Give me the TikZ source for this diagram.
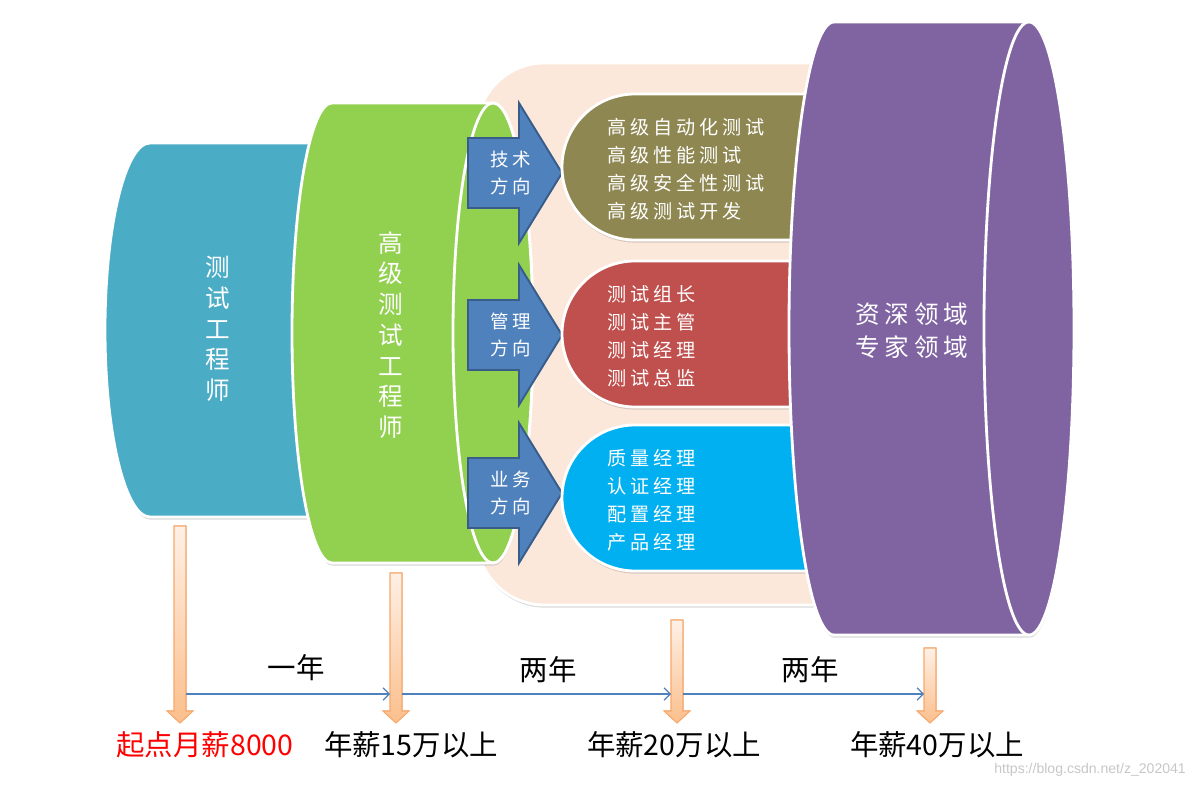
\documentclass[tikz,border=0pt]{standalone}
\usepackage{fontspec}
\usetikzlibrary{arrows.meta}
\usetikzlibrary{shadows}

\newfontfamily\cjk{Noto Sans CJK SC}
\newfontfamily\cjkwide{Noto Sans CJK SC}[LetterSpace=20]
\newfontfamily\urlfont{Liberation Sans}

\definecolor{tealc}{HTML}{4BACC6}
\definecolor{greenc}{HTML}{92D050}
\definecolor{peach}{HTML}{FCE8DA}
\definecolor{arrowblue}{HTML}{4F81BD}
\definecolor{arrowedge}{HTML}{385D8A}
\definecolor{olive}{HTML}{8F8752}
\definecolor{redc}{HTML}{C0504D}
\definecolor{cyanc}{HTML}{00B0F0}
\definecolor{purplec}{HTML}{8064A2}
\definecolor{orangeedge}{HTML}{F9A86A}
\definecolor{orangetop}{HTML}{FEF0E6}
\definecolor{orangebot}{HTML}{FBBF8C}

\begin{document}
\begin{tikzpicture}[x=0.02cm, y=0.02cm,
    body/.style={draw=white, line width=1.6pt},
    shadowed/.style={drop shadow={shadow xshift=0.3pt, shadow yshift=-1.5pt, opacity=0.3}},
    vtext/.style={text=white, font=\cjk\fontsize{14}{17.5}\selectfont, align=center},
    intext/.style={text=white, font=\cjkwide\fontsize{10.9}{15.9}\selectfont, align=left, anchor=west},
    dirarrow/.style={fill=arrowblue, draw=arrowedge, line width=1.1pt},
    salarrow/.style={draw=orangeedge, line width=0.6pt, top color=orangetop, bottom color=orangebot},
    timeline/.style={draw=arrowblue, line width=0.7pt, -{Straight Barb[length=3.5pt,width=7pt]}},
    salary/.style={font=\cjk\fontsize{16.2}{19}\selectfont}]
    \useasboundingbox (0,0) rectangle (1197,788);

    % test engineer
    \filldraw[body, shadowed, fill=tealc] (150,645) -- (360,645) -- (360,271) -- (150,271)
        arc[start angle=270, end angle=90, x radius=45, y radius=187] -- cycle;
    \node[vtext] (junior) at (218,459) {测\\试\\工\\程\\师};

    % background of the three directions
    \filldraw[body, shadowed, fill=peach, rounded corners=1.35cm] (900,725) -- (477,725) -- (477,183) -- (900,183) -- cycle;

    % senior test engineer
    \filldraw[body, shadowed, fill=greenc] (332,685) -- (493,685)
        arc[start angle=90, end angle=-90, x radius=40, y radius=230] -- (332,225)
        arc[start angle=270, end angle=90, x radius=40, y radius=230] -- cycle;
    \filldraw[body, fill=greenc] (493,455) ellipse [x radius=40, y radius=230];
    \node[vtext] (senior) at (391,453) {高\\级\\测\\试\\工\\程\\师};

    \foreach \cy/\nm/\txt in {615/tech/{技术\\方向}, 453/mgmt/{管理\\方向}, 295/biz/{业务\\方向}} {
        \filldraw[dirarrow] (468,\cy+35) -- (519,\cy+35) -- (519,\cy+70) -- (562,\cy)
            -- (519,\cy-70) -- (519,\cy-35) -- (468,\cy-35) -- cycle;
        \node[text=white, font=\cjkwide\fontsize{10.5}{15.3}\selectfont, align=left] (\nm-dir) at (511,\cy) {\txt};
    }

    \foreach \cy/\col/\nm/\txt in {621/olive/tech/{高级自动化测试\\高级性能测试\\高级安全性测试\\高级测试开发},
            454/redc/mgmt/{测试组长\\测试主管\\测试经理\\测试总监},
            290/cyanc/biz/{质量经理\\认证经理\\配置经理\\产品经理}} {
        \filldraw[body, shadowed, fill=\col] (860,\cy+73) -- (635,\cy+73)
            arc[start angle=90, end angle=270, radius=73] -- (860,\cy-73) -- cycle;
        \node[intext] (\nm-jobs) at (601,\cy-2) {\txt};
    }

    % expert field
    \filldraw[body, shadowed, fill=purplec] (834,766) -- (1029,766)
        arc[start angle=90, end angle=-90, x radius=45, y radius=306.5] -- (834,153)
        arc[start angle=270, end angle=90, x radius=45, y radius=306.5] -- cycle;
    \filldraw[body, fill=purplec] (1029,459.5) ellipse [x radius=45, y radius=306.5];
    \node[text=white, font=\cjkwide\fontsize{14}{18.7}\selectfont, align=center] (expert) at (912,457) {资深领域\\专家领域};

    % salary steps
    \foreach \x/\top/\nm in {180/262/s0, 396/215/s1, 677/168/s2, 930/140/s3} {
        \filldraw[salarrow] (\x-6,\top) -- (\x+6,\top) -- (\x+6,77) -- (\x+13,77)
            -- (\x,65) -- (\x-13,77) -- (\x-6,77) -- cycle;
        \coordinate (\nm-l) at (\x-6,94);
        \coordinate (\nm-r) at (\x+6,94);
    }
    \draw[timeline] (s0-r) -- (s1-l);
    \draw[timeline] (s1-r) -- (s2-l);
    \draw[timeline] (s2-r) -- (s3-l);

    \node[salary] (year1) at (296,120) {一年};
    \node[salary] (year2) at (548,118) {两年};
    \node[salary] (year3) at (810,118) {两年};

    \node[salary, text=red] (pay0) at (205,43) {起点月薪8000};
    \node[salary] (pay1) at (411,43) {年薪15万以上};
    \node[salary] (pay2) at (674,43) {年薪20万以上};
    \node[salary] (pay3) at (937,43) {年薪40万以上};

    \node[font=\urlfont\fontsize{8}{9}\selectfont, text=black!22, anchor=east] (mark) at (1192,18) {https://blog.csdn.net/z\_202041};
\end{tikzpicture}
\end{document}
